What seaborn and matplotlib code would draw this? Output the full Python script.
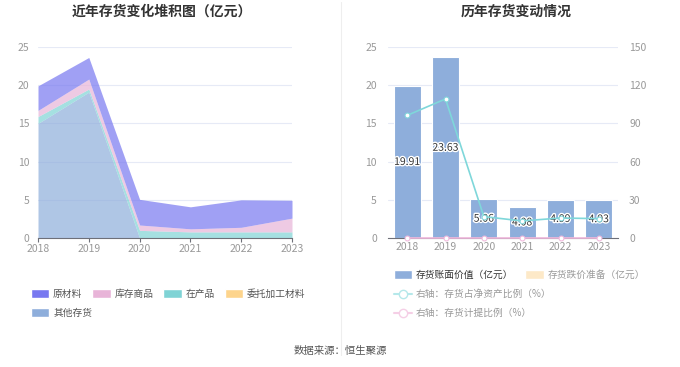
import matplotlib
matplotlib.use("Agg")
import matplotlib.pyplot as plt
import matplotlib.patheffects as pe
import seaborn as sns
import pandas as pd
from matplotlib.patches import Patch
from matplotlib.lines import Line2D

# Donnees
years = ["2018", "2019", "2020", "2021", "2022", "2023"]
raw_mat = [3.21, 2.83, 3.36, 2.88, 3.59, 2.33]      # 原材料
goods = [0.80, 1.30, 0.70, 0.40, 0.60, 1.80]        # 库存商品
wip = [0.90, 0.40, 1.00, 0.80, 0.80, 0.80]          # 在产品
consigned = [0.0, 0.0, 0.0, 0.0, 0.0, 0.0]          # 委托加工材料
other = [15.00, 19.10, 0.0, 0.0, 0.0, 0.0]          # 其他存货
book_value = [19.91, 23.63, 5.06, 4.08, 4.99, 4.93]
bv_labels = ["19.91", "23.63", "5.06", "4.08", "4.99", "4.93"]
net_asset_ratio = [96.3, 109.2, 16.8, 13.4, 15.7, 15.2]
provision_ratio = [0.0, 0.0, 0.0, 0.0, 0.0, 0.0]

C_RAW = "#7878f0"
C_GOODS = "#e8b4d8"
C_WIP = "#7fd3d5"
C_CONS = "#fdd48c"
C_OTHER = "#8eaedb"
GRID = "#e6eaf6"
TICK = "#999999"

sns.set_theme(style="white")
plt.rcParams["font.family"] = ["Noto Sans CJK SC", "DejaVu Sans"]

fig = plt.figure(figsize=(6.8, 3.67), dpi=100)

# ---- gauche : aires empilees
ax1 = fig.add_axes([38 / 680, 1 - 238 / 367, (292 - 38) / 680, (238 - 47) / 367])
xs = [int(y) for y in years]
ax1.stackplot(xs, other, wip, consigned, goods, raw_mat,
              colors=[C_OTHER, C_WIP, C_CONS, C_GOODS, C_RAW], alpha=0.7, linewidth=0)
ax1.set_xlim(2018, 2023)
ax1.set_ylim(0, 25)
ax1.set_yticks([0, 5, 10, 15, 20, 25])
ax1.set_xticks(xs)
ax1.set_xticklabels(years)
ax1.grid(axis="y", color=GRID, linewidth=0.8)
ax1.set_axisbelow(True)
for s in ["top", "right", "left"]:
    ax1.spines[s].set_visible(False)
ax1.spines["bottom"].set_color("#6e7079")
ax1.spines["bottom"].set_linewidth(0.8)
ax1.tick_params(axis="y", length=0, labelsize=7.5, colors=TICK, pad=6)
ax1.tick_params(axis="x", length=3, width=0.8, color="#6e7079", labelsize=7.5,
                labelcolor=TICK, pad=1, direction="out", bottom=True)
fig.text(162 / 680, 1 - 12 / 367, "近年存货变化堆积图（亿元）", ha="center", va="center",
         fontsize=10, fontweight="bold", color="#333333")

# ---- droite : barres + lignes
ax2 = fig.add_axes([388 / 680, 1 - 238 / 367, (618 - 388) / 680, (238 - 47) / 367])
df = pd.DataFrame({"year": years, "value": book_value})
sns.barplot(data=df, x="year", y="value", color=C_OTHER, saturation=1, width=0.7,
            edgecolor="white", linewidth=0.8, ax=ax2)
ax2.set_xlim(-0.5, 5.5)
ax2.set_ylim(0, 25)
ax2.set_yticks([0, 5, 10, 15, 20, 25])
ax2.set_xlabel("")
ax2.set_ylabel("")
ax2.grid(axis="y", color=GRID, linewidth=0.8)
ax2.set_axisbelow(True)
for s in ["top", "right", "left"]:
    ax2.spines[s].set_visible(False)
ax2.spines["bottom"].set_color("#6e7079")
ax2.spines["bottom"].set_linewidth(0.8)
ax2.tick_params(axis="y", length=0, labelsize=7.5, colors=TICK, pad=8)
ax2.tick_params(axis="x", length=0, labelsize=7.5, colors=TICK, pad=3)
for i, (v, lab) in enumerate(zip(book_value, bv_labels)):
    ax2.text(i, v / 2, lab, ha="center", va="center", fontsize=7.5, color="#333333",
             path_effects=[pe.withStroke(linewidth=2, foreground="white")], zorder=5)

ax3 = ax2.twinx()
ldf = pd.DataFrame({"x": range(6), "r1": net_asset_ratio, "r2": provision_ratio})
sns.lineplot(data=ldf, x="x", y="r1", color="#7fd7da", linewidth=1.2, marker="o",
             markersize=3.5, markeredgecolor="#7fd7da", markerfacecolor="white", ax=ax3)
sns.lineplot(data=ldf, x="x", y="r2", color="#f0b8dc", linewidth=1.2, marker="o",
             markersize=3.5, markeredgecolor="#f0b8dc", markerfacecolor="white", ax=ax3,
             clip_on=False)
ax3.set_xlim(-0.5, 5.5)
ax3.set_ylim(0, 150)
ax3.set_yticks([0, 30, 60, 90, 120, 150])
ax3.set_xlabel("")
ax3.set_ylabel("")
for s in ["top", "right", "left", "bottom"]:
    ax3.spines[s].set_visible(False)
ax3.tick_params(axis="y", length=0, labelsize=7.5, colors=TICK, pad=8)
fig.text(516 / 680, 1 - 12 / 367, "历年存货变动情况", ha="center", va="center",
         fontsize=10, fontweight="bold", color="#333333")

# separateur
fig.add_artist(Line2D([341 / 680, 341 / 680], [1 - 355 / 367, 1 - 2 / 367],
                      color="#eeeeee", linewidth=0.8, transform=fig.transFigure))

# legendes
h_left1 = [Patch(facecolor=C_RAW, label="原材料"), Patch(facecolor=C_GOODS, label="库存商品"),
           Patch(facecolor=C_WIP, label="在产品"), Patch(facecolor=C_CONS, label="委托加工材料")]
fig.legend(handles=h_left1, loc="center left", bbox_to_anchor=(22 / 680, 1 - 294 / 367),
           ncol=4, frameon=False, fontsize=7, handlelength=1.9, handleheight=1.0,
           columnspacing=1.0, handletextpad=0.4, labelcolor="#555555")
fig.legend(handles=[Patch(facecolor=C_OTHER, label="其他存货")], loc="center left",
           bbox_to_anchor=(22 / 680, 1 - 313 / 367), frameon=False, fontsize=7,
           handlelength=1.9, handleheight=1.0, handletextpad=0.4, labelcolor="#555555")
fig.legend(handles=[Patch(facecolor=C_OTHER, label="存货账面价值（亿元）"),
                    Patch(facecolor="#fde9c8", label="存货跌价准备（亿元）")],
           loc="center left", bbox_to_anchor=(385 / 680, 1 - 275 / 367), ncol=2,
           frameon=False, fontsize=7, handlelength=1.9, handleheight=1.0,
           columnspacing=1.2, handletextpad=0.4, labelcolor=["#333333", "#999999"])
fig.legend(handles=[Line2D([], [], color="#b5e8ea", marker="o", markerfacecolor="white",
                           markeredgecolor="#b5e8ea", markersize=6,
                           label="右轴：存货占净资产比例（%）")],
           loc="center left", bbox_to_anchor=(385 / 680, 1 - 294 / 367), frameon=False,
           fontsize=7, handlelength=1.9, handletextpad=0.4, labelcolor="#999999")
fig.legend(handles=[Line2D([], [], color="#f5cfe6", marker="o", markerfacecolor="white",
                           markeredgecolor="#f5cfe6", markersize=6,
                           label="右轴：存货计提比例（%）")],
           loc="center left", bbox_to_anchor=(385 / 680, 1 - 313 / 367), frameon=False,
           fontsize=7, handlelength=1.9, handletextpad=0.4, labelcolor="#999999")

fig.text(340 / 680, 1 - 351 / 367, "数据来源：恒生聚源", ha="center", va="center",
         fontsize=7.5, color="#555555")

fig.savefig("out.png", dpi=100)
plt.close(fig)
